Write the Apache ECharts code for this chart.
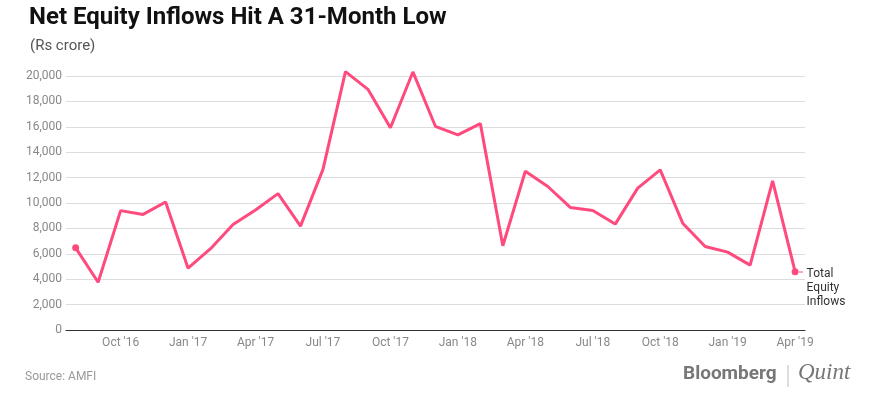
<!DOCTYPE html>
<html>
<head>
<meta charset="utf-8">
<script src="https://cdn.jsdelivr.net/npm/echarts@6/dist/echarts.min.js"></script>
<style>
  html, body { margin: 0; padding: 0; background: #fff; }
  #chart { width: 882px; height: 398px; }
</style>
</head>
<body>
<div id="chart"></div>
<script>
// months Aug '16 .. Apr '19
var months = ['Aug \'16', 'Sep \'16', 'Oct \'16', 'Nov \'16', 'Dec \'16',
  'Jan \'17', 'Feb \'17', 'Mar \'17', 'Apr \'17', 'May \'17', 'Jun \'17', 'Jul \'17',
  'Aug \'17', 'Sep \'17', 'Oct \'17', 'Nov \'17', 'Dec \'17',
  'Jan \'18', 'Feb \'18', 'Mar \'18', 'Apr \'18', 'May \'18', 'Jun \'18', 'Jul \'18',
  'Aug \'18', 'Sep \'18', 'Oct \'18', 'Nov \'18', 'Dec \'18',
  'Jan \'19', 'Feb \'19', 'Mar \'19', 'Apr \'19'];

// net equity inflows, Rs crore
var inflows = [6470, 3760, 9400, 9100, 10080,
  4870, 6400, 8300, 9450, 10740, 8180, 12650,
  20340, 18950, 15930, 20320, 16040,
  15360, 16250, 6630, 12500, 11300, 9650, 9410,
  8340, 11170, 12610, 8410, 6580,
  6130, 5110, 11740, 4590];

// quarterly tick labels (index into months)
var tickIdx = [2, 5, 8, 11, 14, 17, 20, 23, 26, 29, 32];

var chart = echarts.init(document.getElementById('chart'));

var seriesData = inflows.map(function (v, i) { return [i, v]; });
var last = inflows.length - 1;

var option = {
  animation: false,
  textStyle: { fontFamily: 'Roboto' },
  title: [{
    text: 'Net Equity Inflows Hit A 31-Month Low',
    left: 24, top: 1,
    textStyle: { fontFamily: 'Roboto', fontWeight: 'bold', fontSize: 24, color: '#111' }
  }, {
    text: '(Rs crore)',
    left: 25, top: 34,
    textStyle: { fontFamily: 'Roboto', fontWeight: 'normal', fontSize: 15, color: '#555' }
  }],
  grid: { left: 66, right: 77, top: 76, bottom: 68 },
  xAxis: {
    type: 'value',
    min: -0.43,
    max: 32.44,
    axisLine: { show: true, lineStyle: { color: '#333', width: 1.2 } },
    axisTick: { show: false },
    splitLine: { show: false },
    axisLabel: {
      customValues: tickIdx,
      color: '#888', fontSize: 12, margin: 7,
      formatter: function (v) { return months[Math.round(v)]; }
    }
  },
  yAxis: {
    type: 'value',
    min: 0, max: 20000, interval: 2000,
    axisLine: { show: false },
    axisTick: { show: false },
    splitLine: { lineStyle: { color: '#dcdcdc', width: 1 } },
    axisLabel: {
      color: '#888', fontSize: 12, margin: 4,
      formatter: function (v) { return v.toLocaleString('en-US'); }
    }
  },
  series: [{
    type: 'line',
    data: seriesData,
    clip: false,
    lineStyle: { color: '#ff4a7e', width: 3 },
    itemStyle: { color: '#ff4a7e' },
    symbol: 'circle',
    symbolSize: function (v, p) { return (p.dataIndex === 0 || p.dataIndex === last) ? 7 : 0; },
    label: {
      show: true,
      position: 'right',
      distance: 8,
      verticalAlign: 'top',
      offset: [0, -5],
      color: '#333', fontSize: 12, lineHeight: 14,
      formatter: function (p) { return p.dataIndex === last ? 'Total\nEquity\nInflows' : ''; }
    }
  }],
  graphic: [{
    type: 'text', left: 25, top: 371,
    style: { text: 'Source: AMFI', fill: '#999', font: '12px Roboto' }
  }, {
    type: 'text', left: 683, top: 365,
    style: { text: 'Bloomberg', fill: '#777', font: 'bold 19px Roboto' }
  }, {
    type: 'line', shape: { x1: 788, y1: 365, x2: 788, y2: 387 },
    style: { stroke: '#bbb', lineWidth: 1 }
  }, {
    type: 'text', left: 798, top: 361,
    style: { text: 'Quint', fill: '#777', font: 'italic 23px "Liberation Serif"' }
  }, {
    type: 'line', shape: { x1: 799, y1: 272, x2: 803, y2: 272 },
    style: { stroke: '#ff4a7e', lineWidth: 1 }
  }]
};

chart.setOption(option);
</script>
</body>
</html>
